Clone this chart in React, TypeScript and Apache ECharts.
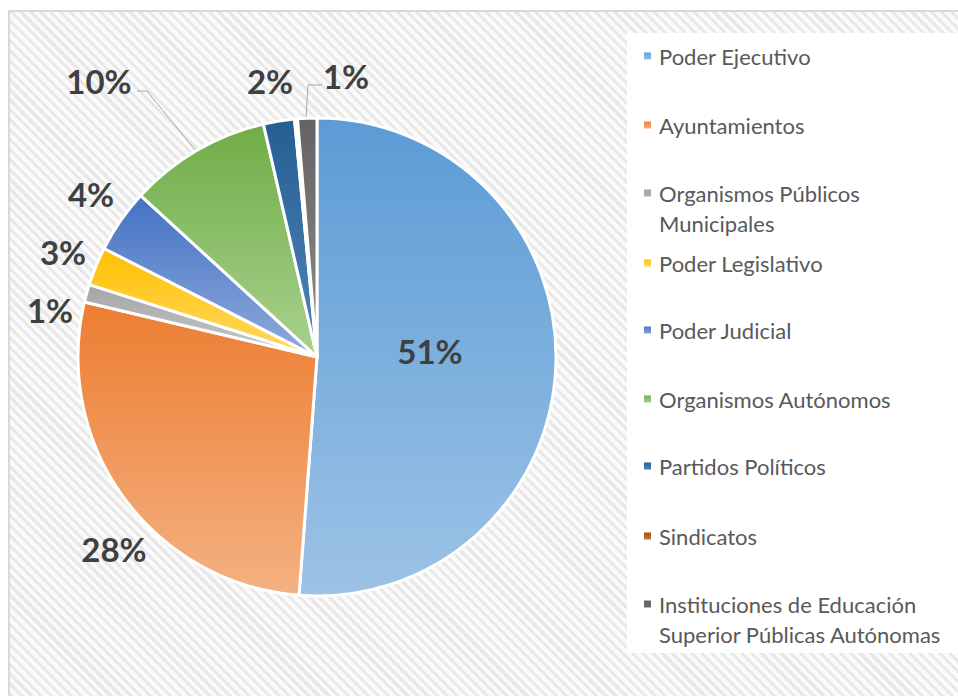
import React, { useEffect, useRef } from "react";
import * as echarts from "echarts";

// ---- data ----
const categories = [
  "Poder Ejecutivo",
  "Ayuntamientos",
  "Organismos Públicos Municipales",
  "Poder Legislativo",
  "Poder Judicial",
  "Organismos Autónomos",
  "Partidos Políticos",
  "Sindicatos",
  "Instituciones de Educación Superior Públicas Autónomas",
];
const legendLabels = [
  "Poder Ejecutivo",
  "Ayuntamientos",
  "Organismos Públicos\nMunicipales",
  "Poder Legislativo",
  "Poder Judicial",
  "Organismos Autónomos",
  "Partidos Políticos",
  "Sindicatos",
  "Instituciones de Educación\nSuperior Públicas Autónomas",
];
const shares = [51.2, 27.5, 1.2, 2.6, 4.3, 9.6, 2.1, 0.2, 1.3];

// ---- styles ----
const baseColors = ["#5B9BD5", "#ED7D31", "#A5A5A5", "#FFC000", "#4472C4", "#70AD47", "#255E91", "#9E480E", "#636363"];
const lightColors = ["#9DC3E6", "#F4B183", "#C9C9C9", "#FFD966", "#8FAADC", "#A9D18E", "#4F86BD", "#D07A3E", "#8E8E8E"];

// ---- layout (chart coordinates) ----
const CENTER = [309, 347];
const RADIUS = 239;
const labelPos: (number[] | null)[] = [
  [422, 341], [106, 539], [42, 300], [55, 242], [83, 184], [91, 71], [262, 71], null, [338, 66],
];
const leaderLines: Record<number, number[][]> = {
  5: [[187, 140], [139, 81], [129, 81]],
  8: [[298, 108], [300, 75], [314, 75]],
};
const legendFirstLineCenters = [46, 115, 183, 253, 320, 389, 456, 526, 594];
const LEGEND_LEFT = 634;
const LINE_H = 30;
const ICON = 9;

export default function App() {
  const ref = useRef<HTMLDivElement>(null);
  useEffect(() => {
    if (!ref.current) return;
    const chart = echarts.init(ref.current, undefined, { renderer: "svg" });

    const data = categories.map((name, i) => ({
      name,
      value: shares[i],
      itemStyle: {
        color: {
          type: "linear", x: 0, y: 0, x2: 0, y2: 1,
          colorStops: [
            { offset: 0, color: baseColors[i] },
            { offset: 1, color: lightColors[i] },
          ],
        },
      },
      label: { show: labelPos[i] !== null },
      labelLine: { show: !!leaderLines[i] },
    }));

    const legends = categories.map((name, i) => {
      const multi = legendLabels[i].includes("\n");
      const h = multi ? LINE_H + ICON : ICON;
      return {
        data: [name],
        orient: "vertical",
        left: LEGEND_LEFT,
        top: legendFirstLineCenters[i] - LINE_H / 2,
        padding: 0,
        icon: multi
          ? `path://M0,0L${ICON},0L${ICON},${ICON}L0,${ICON}ZM0,${h}L0.01,${h}`
          : "rect",
        itemWidth: ICON,
        itemHeight: h,
        selectedMode: false,
        formatter: () => legendLabels[i],
        textStyle: {
          fontFamily: "Lato",
          fontSize: 22,
          color: "#595959",
          lineHeight: LINE_H,
          padding: [0, 0, 0, 2],
        },
      };
    });

    chart.setOption({
      animation: false,
      backgroundColor: "transparent",
      graphic: [
        {
          type: "rect",
          z: -10,
          shape: { x: 619, y: 23, width: 334, height: 620 },
          style: { fill: "#ffffff" },
          silent: true,
        },
      ],
      legend: legends,
      series: [
        {
          type: "pie",
          center: CENTER,
          radius: RADIUS,
          startAngle: 90,
          clockwise: true,
          avoidLabelOverlap: false,
          itemStyle: { borderColor: "#ffffff", borderWidth: 3 },
          label: {
            show: true,
            position: "outside",
            formatter: (p: any) => Math.round(p.percent) + "%",
            fontFamily: "Lato",
            fontWeight: "bold",
            fontSize: 33,
            color: "#404040",
          },
          labelLine: {
            show: false,
            lineStyle: { color: "#A6A6A6", width: 1 },
          },
          labelLayout: (params: any) => {
            const i = params.dataIndex;
            const p = labelPos[i];
            if (!p) return {};
            const out: any = { x: p[0], y: p[1], align: "center", verticalAlign: "middle" };
            if (leaderLines[i]) out.labelLinePoints = leaderLines[i];
            return out;
          },
          emphasis: { disabled: true },
          data,
        },
      ],
    });

    return () => chart.dispose();
  }, []);

  return (
    <>
      <div
        style={{
          position: "fixed",
          left: 8,
          top: 10,
          width: 950,
          height: 686,
          boxSizing: "border-box",
          borderLeft: "2px solid #d9d9d9",
          borderTop: "2px solid #d9d9d9",
          background:
            "repeating-linear-gradient(45deg, #e8e8e8 0px, #e8e8e8 3px, #fafafa 3px, #fafafa 7px)",
        }}
      />
      <div
        ref={ref}
        style={{ position: "fixed", left: 8, top: 10, width: 950, height: 686 }}
      />
    </>
  );
}
